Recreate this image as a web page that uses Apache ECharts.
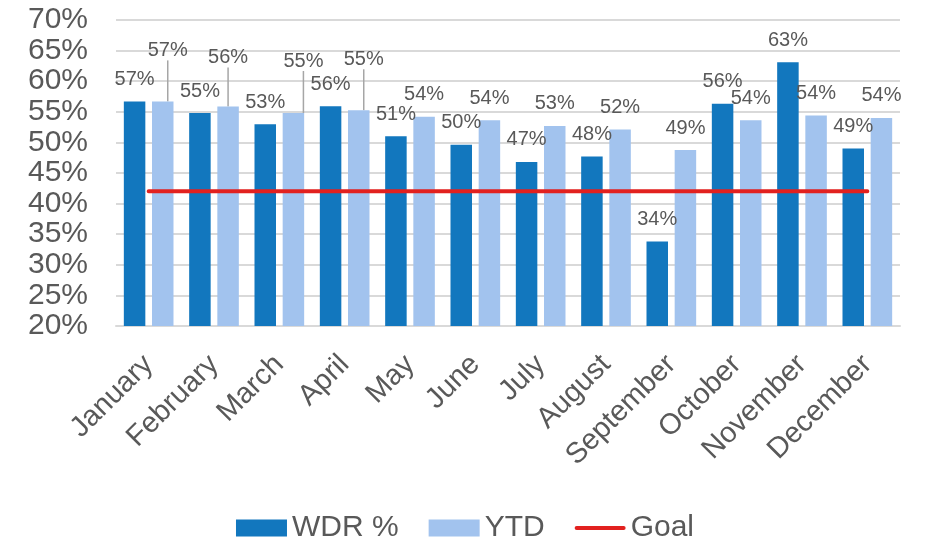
<!DOCTYPE html>
<html>
<head>
<meta charset="utf-8">
<script src="https://cdn.jsdelivr.net/npm/echarts@6/dist/echarts.min.js"></script>
<style>
  html, body { margin: 0; padding: 0; background: #fff; }
  #chart { width: 930px; height: 538px; }
</style>
</head>
<body>
<div id="chart"></div>
<script>
const months = ['January', 'February', 'March', 'April', 'May', 'June', 'July', 'August', 'September', 'October', 'November', 'December']
const wdr = [56.7, 54.8, 52.95, 55.9, 51.0, 49.6, 46.8, 47.7, 33.8, 56.3, 63.1, 49.0]
const ytd = [56.7, 55.85, 54.8, 55.25, 54.2, 53.6, 52.7, 52.1, 48.75, 53.6, 54.4, 54.0]
const goal = [42, 42, 42, 42, 42, 42, 42, 42, 42, 42, 42, 42]

let darkBlue = '#1277be'
let lightBlue = '#a2c3ee'
let goalRed = '#e2211f'
let textColor = '#595959'
let font = 'Liberation Sans, Arial, sans-serif'

// ytd labels that Excel pushed up with a leader line
let ytdShift = { 0: [5, -29], 1: [0, -27], 2: [10, -30], 3: [5, -29] }

let ytdData = ytd.map((v, i) => ({
  value: v,
  labelLine: { show: ytdShift[i] !== undefined }
}))

let barLabel = {
  show: true,
  position: 'top',
  distance: 12,
  color: textColor,
  fontSize: 20,
  fontFamily: font,
  formatter: p => Math.round(p.value) + '%'
}

let chart = echarts.init(document.getElementById('chart'))
chart.setOption({
  animation: false,
  grid: { left: 116, right: 30, top: 20, bottom: 212 },
  legend: {
    top: 508,
    left: 'center',
    itemWidth: 51,
    itemHeight: 17,
    itemGap: 30,
    textStyle: { color: textColor, fontSize: 30, fontFamily: font },
    data: [
      { name: 'WDR %', icon: 'rect' },
      { name: 'YTD', icon: 'rect' },
      { name: 'Goal', icon: 'path://M2,0 L48,0 A2,2 0 0 1 48,4 L2,4 A2,2 0 0 1 2,0 Z' }
    ]
  },
  xAxis: {
    type: 'category',
    data: months,
    axisTick: { show: false },
    axisLine: { lineStyle: { color: '#d9d9d9', width: 2 } },
    axisLabel: {
      interval: 0,
      rotate: 45,
      margin: 34,
      color: textColor,
      fontSize: 29,
      fontFamily: font
    }
  },
  yAxis: {
    type: 'value',
    min: 20,
    max: 70,
    interval: 5,
    axisLine: { show: false },
    axisTick: { show: false },
    splitLine: { lineStyle: { color: '#d9d9d9', width: 2 } },
    axisLabel: {
      margin: 28,
      color: textColor,
      fontSize: 30,
      fontFamily: font,
      formatter: '{value}%'
    }
  },
  series: [
    {
      name: 'WDR %',
      type: 'bar',
      data: wdr,
      barWidth: 21.5,
      barGap: '31%',
      itemStyle: { color: darkBlue },
      label: barLabel
    },
    {
      name: 'YTD',
      type: 'bar',
      data: ytdData,
      barWidth: 21.5,
      itemStyle: { color: lightBlue },
      label: barLabel,
      labelLine: { lineStyle: { color: '#a6a6a6', width: 1.5 } },
      labelLayout: function (params) {
        let s = ytdShift[params.dataIndex]
        if (s) {
          return { dx: s[0], dy: s[1] }
        }
        return {}
      }
    },
    {
      name: 'Goal',
      type: 'line',
      data: goal,
      symbol: 'none',
      z: 5,
      itemStyle: { color: goalRed },
      lineStyle: { color: goalRed, width: 4, cap: 'round' }
    }
  ]
})
</script>
</body>
</html>
